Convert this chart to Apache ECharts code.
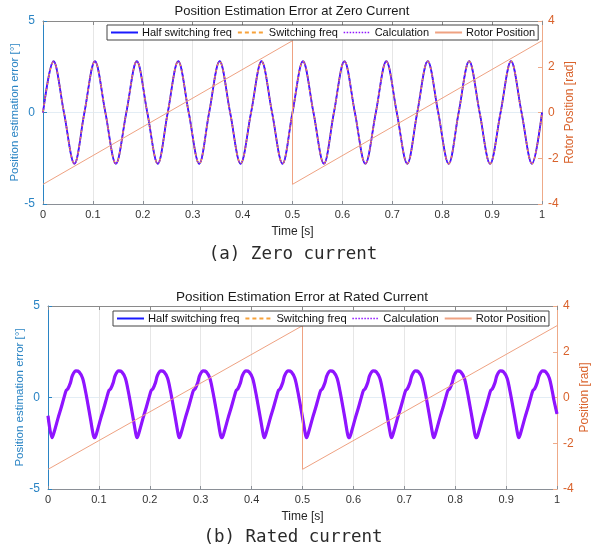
<!DOCTYPE html>
<html>
<head>
<meta charset="utf-8">
<script src="https://cdn.jsdelivr.net/npm/echarts@6/dist/echarts.min.js"></script>
<style>
  html, body { margin: 0; padding: 0; background: #fff; }
  #chart { width: 591px; height: 554px; }
</style>
</head>
<body>
<div id="chart"></div>
<script>
const seriesNames = ['Half switching freq', 'Switching freq', 'Calculation', 'Rotor Position'];
const seriesColors = ['#1a1aff', '#f7a23a', '#8f14ff', '#efa282'];

// (a) zero current: rising zero crossing of each cycle [s] + shape of one cycle
const zeroCycleStart = [0, 0.083, 0.167, 0.25, 0.333, 0.417, 0.5, 0.583, 0.667, 0.75, 0.833, 0.917];
const zeroShapeDt = [0, 0.021, 0.042, 0.063];
const zeroShapeErr = [0, 2.8, 0, -2.8];
const zeroEdgeErr = [0, 0];          // value at t=0 and t=1

// (b) rated current: trough of each cycle [s] + shape of one cycle
const ratedCycleStart = [0.008, 0.092, 0.175, 0.258, 0.342, 0.425, 0.508, 0.592, 0.675, 0.758, 0.842, 0.925];
const ratedShapeDt = [0, 0.005, 0.012, 0.018, 0.024, 0.028, 0.031, 0.036, 0.040, 0.047, 0.053, 0.060, 0.066, 0.069, 0.076, 0.081];
const ratedShapeErr = [-2.2, -1.8, -1.1, -0.55, 0.05, 0.4, 0.47, 0.8, 1.2, 1.45, 1.4, 1.05, 0.3, -0.15, -1.25, -2.05];
const ratedEdgeErr = [-1.0, -0.9];

// rotor position sawtooth [rad]
const rotorTime = [0, 0.5, 0.5, 1];
const rotorPos = [-3.14, 3.14, -3.14, 3.14];

function buildCycles(starts, dts, vals, edges) {
    const pts = [[0, edges[0]]];
    starts.forEach(s => {
        dts.forEach((d, i) => {
            const t = +(s + d).toFixed(4);
            if (t > 0 && t < 1) pts.push([t, vals[i]]);
        });
    });
    pts.push([1, edges[1]]);
    return pts;
}

const zeroErr = buildCycles(zeroCycleStart, zeroShapeDt, zeroShapeErr, zeroEdgeErr);
const ratedErr = buildCycles(ratedCycleStart, ratedShapeDt, ratedShapeErr, ratedEdgeErr);
const rotor = rotorTime.map((t, i) => [t, rotorPos[i]]);

const font = 'Liberation Sans, Arial, sans-serif';
const leftBlue = '#2a84c4';
const rightOrange = '#d9622b';

function xAxes(gridIndex) {
    return [{
        type: 'value', gridIndex, min: 0, max: 1, interval: 0.1,
        name: 'Time [s]', nameLocation: 'middle', nameGap: 22, nameMoveOverlap: false,
        nameTextStyle: { fontFamily: font, fontSize: 12, color: '#262626' },
        axisLine: { onZero: false, lineStyle: { color: '#8a8f96', width: 1 } },
        axisTick: { inside: true, length: 3, lineStyle: { color: '#8a8f96' } },
        axisLabel: {
            fontFamily: font, fontSize: 11, color: '#333', margin: 5,
            formatter: v => (v === 0 || v === 1) ? String(v) : v.toFixed(1)
        },
        splitLine: { show: true, lineStyle: { color: '#e6e6e6', width: 1 } }
    }, {
        type: 'value', gridIndex, position: 'top', min: 0, max: 1, interval: 0.1,
        axisLine: { onZero: false, lineStyle: { color: '#8a8a8a', width: 1 } },
        axisTick: { inside: true, length: 4, lineStyle: { color: '#8a8a8a' } },
        axisLabel: { show: false },
        splitLine: { show: false }
    }];
}

function yAxes(gridIndex, rightName) {
    return [{
        type: 'value', gridIndex, min: -5, max: 5, interval: 5,
        name: 'Position estimation error [°]', nameLocation: 'middle', nameGap: 22, nameMoveOverlap: false,
        nameTextStyle: { fontFamily: font, fontSize: 11.5, color: leftBlue },
        axisLine: { show: true, onZero: false, lineStyle: { color: leftBlue, width: 1 } },
        axisTick: { show: true, inside: true, length: 4, lineStyle: { color: leftBlue } },
        axisLabel: { fontFamily: font, fontSize: 12, color: leftBlue, margin: 8 },
        splitLine: { show: true, lineStyle: { color: '#e3edf5', width: 1 } }
    }, {
        type: 'value', gridIndex, position: 'right', min: -4, max: 4, interval: 2,
        name: rightName, nameLocation: 'middle', nameGap: 22, nameRotate: 90, nameMoveOverlap: false,
        nameTextStyle: { fontFamily: font, fontSize: 12, color: rightOrange },
        axisLine: { show: true, onZero: false, lineStyle: { color: '#eeaa88', width: 1 } },
        axisTick: { show: true, inside: true, length: 4, lineStyle: { color: '#eeaa88' } },
        axisLabel: { fontFamily: font, fontSize: 12, color: rightOrange, margin: 6 },
        splitLine: { show: false }
    }];
}

function errSeries(k, data, calcWidth, smooth) {
    const x = k * 2, y = k * 2;
    const base = { type: 'line', xAxisIndex: x, yAxisIndex: y, data, symbol: 'none', smooth, animation: false };
    return [{
        ...base, name: seriesNames[0],
        itemStyle: { color: seriesColors[0] },
        lineStyle: { color: seriesColors[0], width: 1.8 }
    }, {
        ...base, name: seriesNames[1],
        itemStyle: { color: seriesColors[1] },
        lineStyle: { color: seriesColors[1], width: 1.6, type: [4, 3] }
    }, {
        ...base, name: seriesNames[2],
        itemStyle: { color: seriesColors[2] },
        lineStyle: calcWidth > 2
            ? { color: seriesColors[2], width: calcWidth }
            : { color: seriesColors[2], width: 1.4, type: [1.5, 1.5] }
    }, {
        name: seriesNames[3], type: 'line', xAxisIndex: x, yAxisIndex: y + 1,
        data: rotor, symbol: 'none', animation: false,
        itemStyle: { color: seriesColors[3] },
        lineStyle: { color: seriesColors[3], width: 1 }
    }];
}

function legendFor(left, top, fontSize, itemGap) {
    return {
        left, top, orient: 'horizontal',
        itemWidth: 27, itemHeight: 8, itemGap,
        padding: [2, 3, 2, 3],
        borderColor: '#444', borderWidth: 1, backgroundColor: '#fff',
        itemStyle: { opacity: 0 },
        textStyle: { fontFamily: font, fontSize, color: '#111', padding: [0, 0, 0, -1] },
        data: seriesNames.map((n, i) => ({
            name: n,
            itemStyle: { opacity: 0 },
            lineStyle: i === 2 ? { color: seriesColors[2], width: 1.4, type: [1.5, 1.5] } : undefined
        }))
    };
}

const chart = echarts.init(document.getElementById('chart'));
chart.setOption({
    backgroundColor: '#fff',
    animation: false,
    title: [{
        text: 'Position Estimation Error at Zero Current',
        left: 292, top: 5, textAlign: 'center', padding: 0,
        textStyle: { fontFamily: font, fontSize: 13, fontWeight: 'normal', color: '#1a1a1a' }
    }, {
        text: 'Position Estimation Error at Rated Current',
        left: 302, top: 290, textAlign: 'center', padding: 0,
        textStyle: { fontFamily: font, fontSize: 13.5, fontWeight: 'normal', color: '#1a1a1a' }
    }],
    legend: [legendFor(107, 25, 11, 5), legendFor(113, 311, 11.2, 5)],
    grid: [
        { left: 43, top: 21, width: 499, height: 183, outerBoundsMode: 'none' },
        { left: 48, top: 306, width: 509, height: 183, outerBoundsMode: 'none' }
    ],
    xAxis: [...xAxes(0), ...xAxes(1)],
    yAxis: [...yAxes(0, 'Rotor Position [rad]'), ...yAxes(1, 'Position [rad]')],
    series: [...errSeries(0, zeroErr, 1.4, 0.35), ...errSeries(1, ratedErr, 3.2, 0.3)],
    graphic: [{
        type: 'text', x: 293, y: 254,
        style: { text: '(a) Zero current', fontFamily: 'DejaVu Sans Mono', fontSize: 17.5, fill: '#2a2a2a', align: 'center', verticalAlign: 'middle' }
    }, {
        type: 'text', x: 293, y: 537,
        style: { text: '(b) Rated current', fontFamily: 'DejaVu Sans Mono', fontSize: 17.5, fill: '#2a2a2a', align: 'center', verticalAlign: 'middle' }
    }]
});
</script>
</body>
</html>
